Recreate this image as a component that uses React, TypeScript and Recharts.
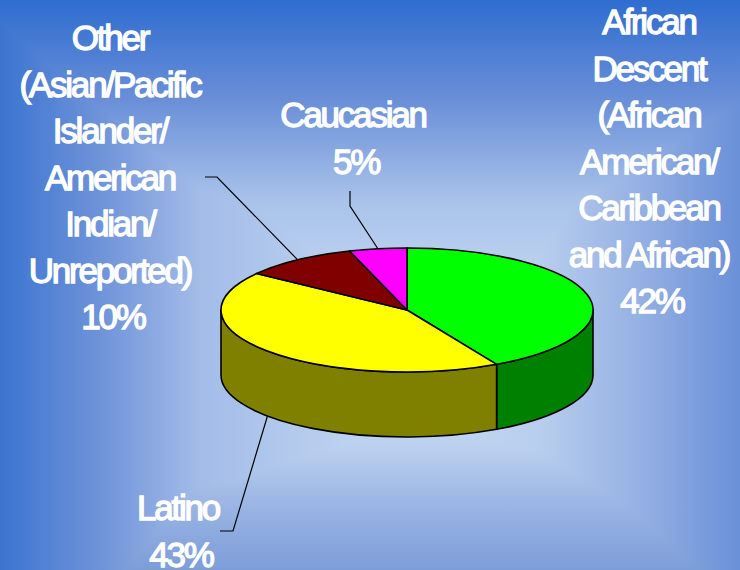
import { PieChart, Pie } from 'recharts';

const categories = ['African Descent', 'Latino', 'Other', 'Caucasian'];
const shares = [42, 43, 10, 5];
const topColors = ['#00ff00', '#ffff00', '#800000', '#ff00ff'];
const wallColors = ['#008000', '#808000', '#800000', '#ff00ff'];

const africanLines = ['African', 'Descent', '(African', 'American/', 'Caribbean', 'and African)', '42%'];
const latinoLines = ['Latino', '43%'];
const otherLines = ['Other', '(Asian/Pacific', 'Islander/', 'American', 'Indian/', 'Unreported)', '10%'];
const caucasianLines = ['Caucasian', '5%'];

const labelLayouts = [
  { lines: africanLines, x: 649, y: 34, leader: null },
  { lines: latinoLines, x: 178, y: 520, leader: { x: 220, y: 531, elbowX: 233, elbowY: 531 } },
  { lines: otherLines, x: 110, y: 50, leader: { x: 205, y: 177, elbowX: 217, elbowY: 177 } },
  { lines: caucasianLines, x: 353, y: 127, leader: { x: 350, y: 191, elbowX: 350, elbowY: 206 } },
];

const chartData = categories.map((name, i) => ({
  name,
  value: shares[i],
  fill: topColors[i],
  wall: wallColors[i],
}));

const FLATTEN = 1 / 3;
const DEPTH = 65;
const RAD = Math.PI / 180;

// the slide fill is a box-shaped gradient: four edge ramps, darkest one wins
const backgroundLayers = [
  'linear-gradient(to right, #3b74d0 0px, #6f93d9 100px, #a3bce8 200px, #c5d8f2 390px)',
  'linear-gradient(to left, #6a90d8 0px, #95b0e3 100px, #b8ceee 200px, #c5d8f2 320px)',
  'linear-gradient(to bottom, #2e6dcf 0px, #6a8fd8 100px, #a8c2ea 200px, #c5d8f2 300px)',
  'linear-gradient(to top, #7c9dd8 0px, #9db7e5 70px, #bcd1ef 125px, #c5d8f2 150px)',
];

function rimPoint(cx: number, cy: number, r: number, deg: number) {
  return { x: cx + r * Math.cos(deg * RAD), y: cy - r * FLATTEN * Math.sin(deg * RAD) };
}

function Slice3D(props: any) {
  const { cx, cy, outerRadius: r, startAngle, endAngle, fill, payload } = props;
  const ry = r * FLATTEN;
  const a = rimPoint(cx, cy, r, startAngle);
  const b = rimPoint(cx, cy, r, endAngle);
  const large = Math.abs(endAngle - startAngle) > 180 ? 1 : 0;
  const top = `M${cx},${cy}L${a.x},${a.y}A${r},${ry} 0 ${large} 1 ${b.x},${b.y}Z`;

  // side wall only shows on the front half of the rim
  const from = Math.max(Math.min(startAngle, endAngle), -180);
  const to = Math.min(Math.max(startAngle, endAngle), 0);
  let wall = null;
  if (to > from) {
    const p = rimPoint(cx, cy, r, to);
    const q = rimPoint(cx, cy, r, from);
    wall = (
      <path
        d={`M${p.x},${p.y}A${r},${ry} 0 0 1 ${q.x},${q.y}L${q.x},${q.y + DEPTH}A${r},${ry} 0 0 0 ${p.x},${p.y + DEPTH}Z`}
        fill={payload.wall}
        stroke="#000"
        strokeWidth={1.6}
        strokeLinejoin="round"
      />
    );
  }
  return (
    <g>
      {wall}
      <path d={top} fill={fill} stroke="#000" strokeWidth={1.6} strokeLinejoin="round" />
    </g>
  );
}

function SliceLabel(props: any) {
  const { cx, cy, outerRadius: r, midAngle, index } = props;
  const layout = labelLayouts[index];
  if (!layout) return null;
  const rim = rimPoint(cx, cy, r, midAngle);
  const mid = midAngle > 180 ? midAngle - 360 : midAngle;
  const endY = mid < 0 && mid > -180 ? rim.y + DEPTH : rim.y;
  const l = layout.leader;
  const lastLine = layout.lines.length - 1;
  return (
    <g>
      {l && (
        <polyline
          points={`${l.x},${l.y} ${l.elbowX},${l.elbowY} ${rim.x},${endY}`}
          fill="none"
          stroke="#000"
          strokeWidth={1.2}
        />
      )}
      <text
        textAnchor="middle"
        fill="#fff"
        stroke="#fff"
        strokeWidth={1.3}
        fontFamily="'Liberation Sans', Arial, sans-serif"
        fontSize={35}
        letterSpacing={-2.2}
      >
        {layout.lines.map((line, i) => (
          <tspan key={i} x={layout.x + (i === lastLine ? 3 : 0)} y={layout.y + i * 46.5}>
            {line}
          </tspan>
        ))}
      </text>
    </g>
  );
}

export default function App() {
  return (
    <div
      style={{
        position: 'absolute',
        left: 0,
        top: 0,
        width: 740,
        height: 570,
        overflow: 'hidden',
        backgroundImage: backgroundLayers.join(','),
        backgroundBlendMode: 'darken',
      }}
    >
      <PieChart width={740} height={570} margin={{ top: 0, right: 0, bottom: 0, left: 0 }}>
        <Pie
          data={chartData}
          dataKey="value"
          nameKey="name"
          cx={407}
          cy={310}
          innerRadius={0}
          outerRadius={186}
          startAngle={90}
          endAngle={-270}
          paddingAngle={0}
          isAnimationActive={false}
          shape={Slice3D}
          label={SliceLabel}
          labelLine={false}
        />
      </PieChart>
    </div>
  );
}
